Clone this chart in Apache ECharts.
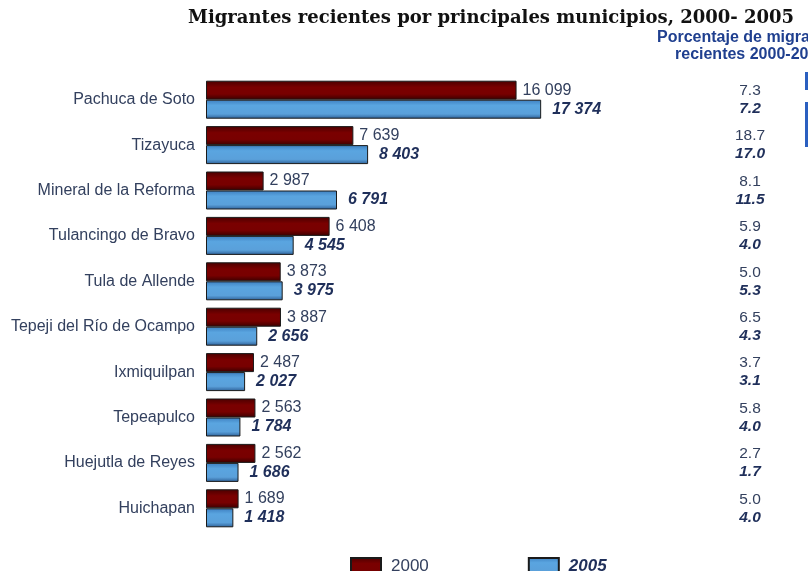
<!DOCTYPE html>
<html>
<head>
<meta charset="utf-8">
<script src="https://cdn.jsdelivr.net/npm/echarts@6/dist/echarts.min.js"></script>
<style>
  html, body { margin: 0; padding: 0; background: #fff; }
  #chart { width: 808px; height: 571px; }
</style>
</head>
<body>
<div id="chart"></div>
<script>
// municipios y migrantes recientes
var municipios = ['Pachuca de Soto', 'Tizayuca', 'Mineral de la Reforma', 'Tulancingo de Bravo',
  'Tula de Allende', 'Tepeji del Río de Ocampo', 'Ixmiquilpan', 'Tepeapulco',
  'Huejutla de Reyes', 'Huichapan'];
var migr2000 = [16099, 7639, 2987, 6408, 3873, 3887, 2487, 2563, 2562, 1689];
var migr2005 = [17374, 8403, 6791, 4545, 3975, 2656, 2027, 1784, 1686, 1418];
// porcentaje de migrantes recientes
var pct2000 = [7.3, 18.7, 8.1, 5.9, 5.0, 6.5, 3.7, 5.8, 2.7, 5.0];
var pct2005 = [7.2, 17.0, 11.5, 4.0, 5.3, 4.3, 3.1, 4.0, 1.7, 4.0];

var txtColor = '#33405e';
var boldColor = '#1f2f5a';
var sans = 'Liberation Sans, Arial, sans-serif';

function miles(v) {
  return String(v).replace(/\B(?=(\d{3})+(?!\d))/g, ' ');
}

var myChart = echarts.init(document.getElementById('chart'));

var option = {
  backgroundColor: '#fff',
  animation: false,
  title: {
    text: 'Migrantes recientes por principales municipios, 2000- 2005',
    left: 183,
    top: 4,
    textStyle: { fontFamily: 'DejaVu Serif', fontWeight: 'bold', fontSize: 18, color: '#111' }
  },
  graphic: [
    {
      type: 'text', left: 657, top: 30,
      style: {
        text: 'Porcentaje de migrantes',
        font: 'bold 16px Liberation Sans, Arial, sans-serif',
        fill: '#1f3f8f'
      }
    },
    {
      type: 'text', left: 675, top: 47,
      style: {
        text: 'recientes 2000-2005',
        font: 'bold 16px Liberation Sans, Arial, sans-serif',
        fill: '#1f3f8f'
      }
    },
    { type: 'rect', left: 805, top: 72, shape: { width: 3, height: 18 }, style: { fill: '#2a5fc0' } },
    { type: 'rect', left: 805, top: 102, shape: { width: 3, height: 45 }, style: { fill: '#2a5fc0' } }
  ],
  legend: {
    left: 345,
    top: 552,
    itemWidth: 30,
    itemHeight: 17,
    itemGap: 99,
    icon: 'rect',
    data: [
      { name: '2000', textStyle: { color: txtColor, fontSize: 17, fontFamily: sans, padding: [0, 0, 0, 5] } },
      { name: '2005', textStyle: { color: boldColor, fontSize: 17, fontWeight: 'bold', fontStyle: 'italic', fontFamily: sans, padding: [0, 0, 0, 5] } }
    ]
  },
  grid: { left: 206, right: 58, top: 77, height: 454 },
  xAxis: {
    type: 'value',
    min: 0,
    max: 28200,
    show: false
  },
  yAxis: [
    {
      type: 'category',
      data: municipios,
      inverse: true,
      axisLine: { show: false },
      axisTick: { show: false },
      axisLabel: {
        margin: 11,
        color: txtColor,
        fontSize: 16,
        fontFamily: sans
      }
    },
    {
      type: 'category',
      data: municipios,
      inverse: true,
      position: 'right',
      axisLine: { show: false },
      axisTick: { show: false },
      axisLabel: {
        margin: 0,
        align: 'center',
        formatter: function (v, i) {
          return '{a|' + pct2000[i].toFixed(1) + '}\n{b|' + pct2005[i].toFixed(1) + '}';
        },
        rich: {
          a: { color: txtColor, fontSize: 15.5, lineHeight: 18, fontFamily: sans },
          b: { color: boldColor, fontSize: 15.5, lineHeight: 18, fontWeight: 'bold', fontStyle: 'italic', fontFamily: sans }
        }
      }
    }
  ],
  series: [
    {
      name: '2000',
      type: 'bar',
      data: migr2000,
      barWidth: 19,
      barGap: '0%',
      itemStyle: {
        color: new echarts.graphic.LinearGradient(0, 0, 0, 1, [
          { offset: 0, color: '#4a0000' },
          { offset: 0.35, color: '#7a0000' },
          { offset: 0.7, color: '#780000' },
          { offset: 1, color: '#3a0000' }
        ]),
        borderColor: '#1a1a1a',
        borderWidth: 1
      },
      label: {
        show: true,
        position: 'right',
        distance: 6,
        color: txtColor,
        fontSize: 16,
        fontFamily: sans,
        formatter: function (p) { return miles(p.value); }
      }
    },
    {
      name: '2005',
      type: 'bar',
      data: migr2005,
      barWidth: 19,
      itemStyle: {
        color: new echarts.graphic.LinearGradient(0, 0, 0, 1, [
          { offset: 0, color: '#3d7fc0' },
          { offset: 0.3, color: '#5aa5e0' },
          { offset: 0.75, color: '#5aa0da' },
          { offset: 1, color: '#2d5f96' }
        ]),
        borderColor: '#1a1a1a',
        borderWidth: 1
      },
      label: {
        show: true,
        position: 'right',
        distance: 11,
        color: boldColor,
        fontSize: 16,
        fontWeight: 'bold',
        fontStyle: 'italic',
        fontFamily: sans,
        formatter: function (p) { return miles(p.value); }
      }
    }
  ]
};

myChart.setOption(option);
</script>
</body>
</html>
